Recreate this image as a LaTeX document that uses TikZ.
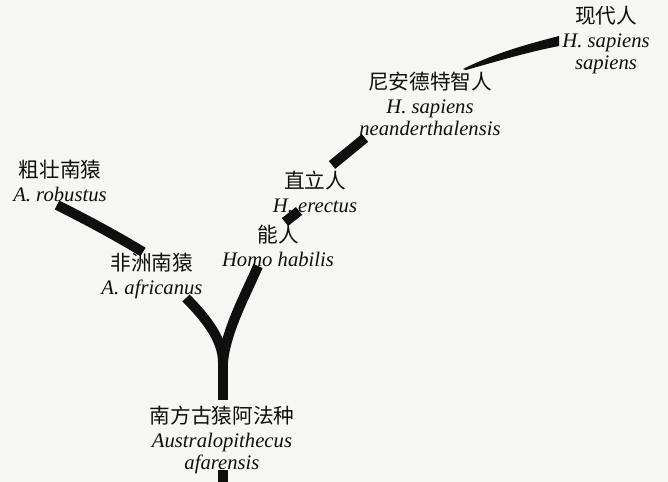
\documentclass[tikz,border=0pt]{standalone}
\usepackage{fontspec}
\setmainfont{Liberation Serif}
\newfontfamily\cjk{Noto Sans CJK SC}
\definecolor{paper}{RGB}{246,246,244}
\definecolor{ink}{RGB}{15,15,15}
\begin{document}
\begin{tikzpicture}[x=0.75pt,y=-0.75pt,
  lbl/.style={align=center,inner sep=0pt,text=ink,font=\fontsize{15.5pt}{16.5pt}\selectfont},
  branch/.style={draw=ink,line width=7.5pt,line cap=butt}]
\fill[paper] (0,0) rectangle (668,482);
\useasboundingbox (0,0) rectangle (668,482);
% labels
\node[lbl] (sap) at (606,40) {{\cjk 现代人}\\[1pt]\textit{H. sapiens}\\\textit{sapiens}};
\node[lbl] (nea) at (430,104) {{\cjk 尼安德特智人}\\[1pt]\textit{H. sapiens}\\\textit{neanderthalensis}};
\node[lbl] (ere) at (315,192) {{\cjk 直立人}\\[1pt]\textit{H. erectus}};
\node[lbl] (hab) at (278,246) {{\cjk 能人}\\[1pt]\textit{Homo habilis}};
\node[lbl] (rob) at (60,181) {{\cjk 粗壮南猿}\\[1pt]\textit{A. robustus}};
\node[lbl] (afr) at (152,276) {{\cjk 非洲南猿}\\[1pt]\textit{A. africanus}};
\node[lbl] (afa) at (222,440) {{\cjk 南方古猿阿法种}\\[1pt]\textit{Australopithecus}\\\textit{afarensis}};
% branch end points
\coordinate (tb) at (223,482);
\coordinate (tt) at (223,470);
\coordinate (fa) at (223,400);
\coordinate (fk) at (223,362);
\coordinate (afrE) at (186,298);
\coordinate (habE) at (258,266);
\coordinate (robA) at (57,205);
\coordinate (robB) at (143,252);
\coordinate (habT) at (285,222);
\coordinate (ereB) at (299,211);
\coordinate (ereT) at (332,165);
\coordinate (neaB) at (365,138);
\coordinate (neaT) at (463,69);
\coordinate (sapB) at (559,41);
% branches
\draw[branch] (tb) -- (tt);
\draw[branch] (fa) -- (fk);
\draw[branch] (fk) .. controls (223,340) and (206,318) .. (afrE);
\draw[branch] (fk) .. controls (226,330) and (246,294) .. (habE);
\draw[branch] (robA) .. controls (85,219) and (115,235) .. (robB);
\draw[branch] (habT) -- (ereB);
\draw[branch] (ereT) -- (neaB);
\fill[ink] (neaT) .. controls (495,53) and (528,44) .. (559,36) -- (559,46)
  .. controls (528,52) and (498,61) .. (466,70) -- cycle;
\end{tikzpicture}
\end{document}
